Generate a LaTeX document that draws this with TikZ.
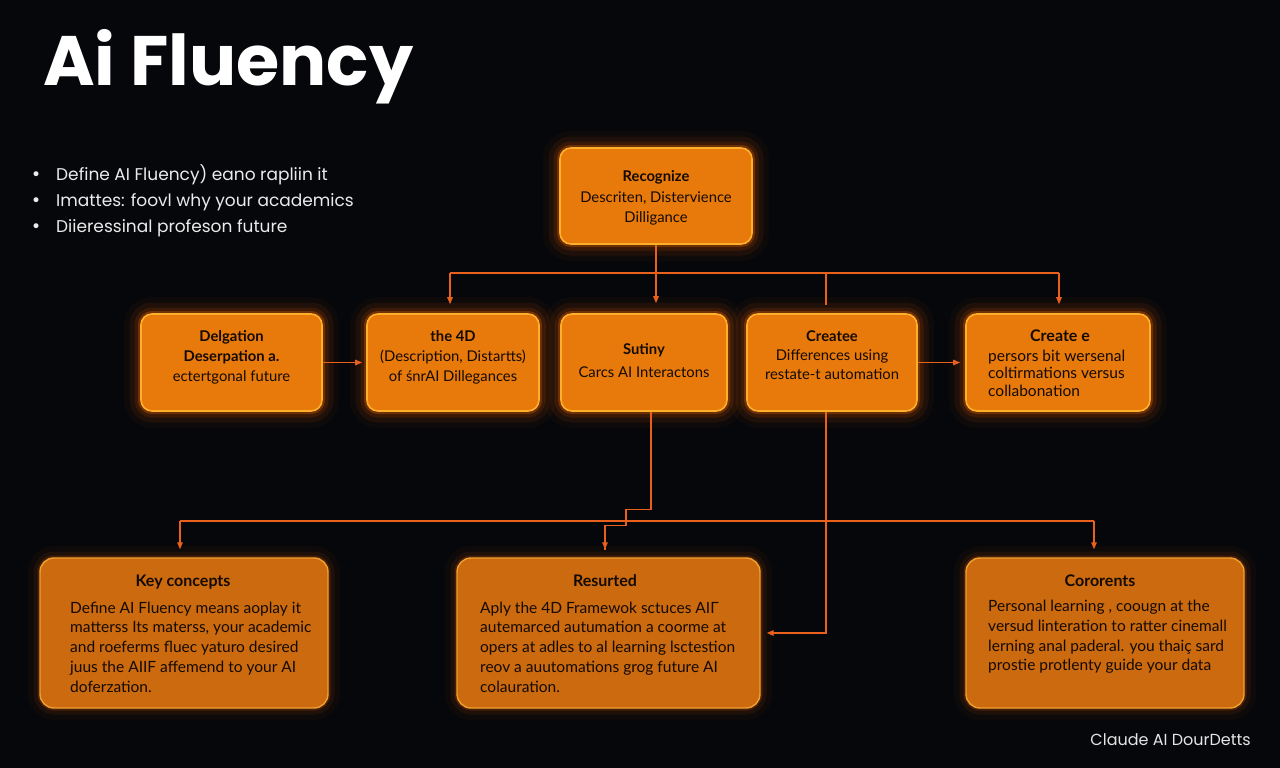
\documentclass[tikz,border=0pt]{standalone}
\usepackage{fontspec}
\setmainfont{Poppins}
\newfontfamily\boxfont{Lato}
\newfontfamily\dotfont{DejaVu Sans}
\usetikzlibrary{arrows.meta,calc}
\definecolor{bg}{HTML}{05070B}
\definecolor{boxtop}{HTML}{E87A0C}
\definecolor{boxbot}{HTML}{CB6A0E}
\definecolor{rimtop}{HTML}{FFB02A}
\definecolor{rimbot}{HTML}{F0A030}
\definecolor{glow}{HTML}{FF6A00}
\definecolor{wire}{HTML}{E8601C}
\definecolor{ink}{HTML}{140A02}
\newcommand{\bigdot}{\makebox[25pt][l]{{\dotfont\fontsize{17}{17}\selectfont •}}}
\begin{document}
\begin{tikzpicture}[x=1pt,y=-1pt,
  topbox/.style={draw=rimtop, line width=1.6pt, fill=boxtop, rounded corners=11pt, inner sep=0pt,
    preaction={draw=glow, line width=34pt, draw opacity=0.04},
    preaction={draw=glow, line width=23pt, draw opacity=0.07},
    preaction={draw=glow, line width=13pt, draw opacity=0.12},
    preaction={draw=glow, line width=6pt, draw opacity=0.28}},
  botbox/.style={draw=rimbot, line width=1.4pt, fill=boxbot, rounded corners=14pt, inner sep=0pt,
    preaction={draw=glow, line width=24pt, draw opacity=0.04},
    preaction={draw=glow, line width=13pt, draw opacity=0.07},
    preaction={draw=glow, line width=5pt, draw opacity=0.18}},
  boxtxt/.style={text=ink, inner sep=0pt, align=center, font=\boxfont\fontsize{14.8}{20}\selectfont},
  bodytxt/.style={text=ink, inner sep=0pt, align=left, font=\boxfont\fontsize{15.5}{19.8}\selectfont},
  headtxt/.style={text=ink, inner sep=0pt, font=\boxfont\bfseries\fontsize{16}{18}\selectfont},
  conn/.style={draw=wire, line width=1.3pt},
  arr/.style={conn, -{Triangle[length=7pt,width=5.5pt]}}
]
\fill[bg] (0,0) rectangle (1280,768);
\useasboundingbox (0,0) rectangle (1280,768);

% title, bullets, footer
\node[anchor=west, text=white, inner sep=0pt, font=\bfseries\fontsize{70}{76}\selectfont] (title) at (43,67) {Ai Fluency};
\node[anchor=west, text=white!92!black, inner sep=0pt, align=left, font=\fontsize{17}{26}\selectfont] (bullets) at (31,201)
  {\bigdot Define AI Fluency) eano rapliin it\\
   \bigdot Imattes: foovl why your academics\\
   \bigdot Diieressinal profeson future};
\node[anchor=east, text=white!90!black, inner sep=0pt, font=\fontsize{16}{18}\selectfont] (footer) at (1251,740) {Claude AI DourDetts};

% boxes
\node[topbox, minimum width=192pt, minimum height=96pt] (T) at (656,196) {};
\node[topbox, minimum width=181pt, minimum height=97pt] (A) at (231.5,362.5) {};
\node[topbox, minimum width=172pt, minimum height=97pt] (B) at (453,362.5) {};
\node[topbox, minimum width=166pt, minimum height=97pt] (C) at (644,362.5) {};
\node[topbox, minimum width=170pt, minimum height=97pt] (D) at (832,362.5) {};
\node[topbox, minimum width=184pt, minimum height=97pt] (E) at (1058,362.5) {};
\node[botbox, minimum width=288pt, minimum height=150pt] (F) at (184,633) {};
\node[botbox, minimum width=303pt, minimum height=150pt] (G) at (608.5,633) {};
\node[botbox, minimum width=278pt, minimum height=150pt] (H) at (1105,633) {};

% box texts
\node[boxtxt] (Tt) at (656,198) {\textbf{Recognize}\\[1pt]Descriten, Distervience\\Dilligance};
\node[boxtxt] (At) at (231.5,357) {\textbf{Delgation}\\\textbf{Deserpation a.}\\ectertgonal future};
\node[boxtxt] (Bt) at (453,357) {\textbf{the 4D}\\(Description, Distartts)\\of śnrAI Dillegances};
\node[boxtxt, font=\boxfont\fontsize{14.8}{23}\selectfont] (Ct) at (644,361) {\textbf{Sutiny}\\Carcs AI Interactons};
\node[boxtxt, font=\boxfont\fontsize{14.8}{19}\selectfont] (Dt) at (832,355.5) {\textbf{Createe}\\Differences using\\restate-t automation};
\node[headtxt] (Eh) at (1060,336) {Create e};
\node[bodytxt, font=\boxfont\fontsize{15.5}{17.5}\selectfont, anchor=west] (Eb) at (988,373) {persors bit wersenal\\coltirmations versus\\collabonation};

\node[headtxt] (Fh) at (183,582) {Key concepts};
\node[bodytxt, anchor=west] (Fb) at (70,647) {Define AI Fluency means aoplay it\\matterss Its materss, your academic\\and roeferms fluec yaturo desired\\juus the AIIF affemend to your AI\\doferzation.};
\node[headtxt] (Gh) at (605,581) {Resurted};
\node[bodytxt, anchor=west] (Gb) at (480,647) {Aply the 4D Framewok sctuces AIΓ\\autemarced autumation a coorme at\\opers at adles to al learning lsctestion\\reov a auutomations grog future AI\\colauration.};
\node[headtxt] (Hh) at (1100,581) {Cororents};
\node[bodytxt, anchor=west] (Hb) at (988,637) {Personal learning , coougn at the\\versud linteration to ratter cinemall\\lerning anal paderal. you thaiç sard\\prostie protlenty guide your data};

% connectors
\coordinate (b1) at (450,273);
\coordinate (b2) at (1059,273);
\coordinate (b3) at (826,273);
\draw[conn] (b1) -- (b2);
\draw[arr] (T.south) -- (T.south |- C.north) [shorten >=10pt];
\draw[arr, shorten >=9pt] (b1) -- (b1 |- B.north);
\draw[arr, shorten >=9pt] (b2) -- (b2 |- E.north);
\draw[conn, shorten >=8pt] (b3) -- (b3 |- D.north);
\draw[arr, shorten >=4pt] (A.east) -- (B.west);
\draw[arr, shorten >=5pt] (D.east) -- (D.east -| E.west);

\coordinate (d1) at (180,521);
\coordinate (d2) at (1094,521);
\draw[conn] (d1) -- (d2);
\draw[arr, shorten >=8pt] (d1) -- (d1 |- F.north);
\draw[arr, shorten >=8pt] (d2) -- (d2 |- H.north);
\draw[arr, shorten >=8pt] ([xshift=7pt]C.south) -- ++(0,98) -- ++(-25,0) -- ++(0,16) -- ++(-21,0) -- ++(0,24) -- ([xshift=-3.5pt]G.north);
\draw[arr, shorten >=6pt] ([xshift=-6pt]D.south) |- (G.east);
\end{tikzpicture}
\end{document}
